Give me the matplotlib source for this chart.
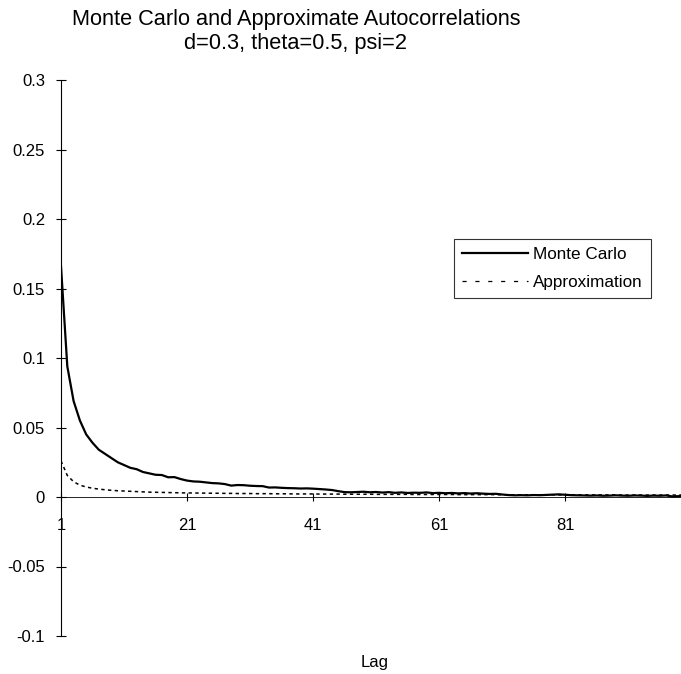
import numpy as np
import matplotlib
matplotlib.use("Agg")
import matplotlib.pyplot as plt
from matplotlib.lines import Line2D

plt.rcParams['font.family'] = ['Liberation Sans', 'DejaVu Sans']

# values
lags = np.arange(1, 101)
monte_carlo = [
    0.166, 0.094, 0.069, 0.055, 0.045, 0.039, 0.034, 0.031, 0.028, 0.025,
    0.023, 0.021, 0.020, 0.018, 0.017, 0.016, 0.0158, 0.0142, 0.0143, 0.0129,
    0.0118, 0.0112, 0.0110, 0.0105, 0.0100, 0.0098, 0.0093, 0.0082, 0.0086, 0.0085,
    0.0081, 0.0079, 0.0078, 0.0068, 0.0069, 0.0066, 0.0064, 0.0063, 0.0061, 0.0062,
    0.0060, 0.0057, 0.0054, 0.0050, 0.0042, 0.0035, 0.0034, 0.0036, 0.0038, 0.0034,
    0.0036, 0.0032, 0.0035, 0.0030, 0.0033, 0.0029, 0.0031, 0.0030, 0.0033, 0.0028,
    0.0030, 0.0027, 0.0029, 0.0026, 0.0028, 0.0025, 0.0027, 0.0024, 0.0022, 0.0023,
    0.0018, 0.0014, 0.0012, 0.0013, 0.0012, 0.0014, 0.0013, 0.0015, 0.0017, 0.0019,
    0.0016, 0.0013, 0.0012, 0.0011, 0.0010, 0.0011, 0.0009, 0.0010, 0.0012, 0.0010,
    0.0009, 0.0011, 0.0010, 0.0008, 0.0010, 0.0009, 0.0011, 0.0004, 0.0006, 0.0012,
]
approximation = [
    0.026, 0.0155, 0.0110, 0.0085, 0.0072, 0.0063, 0.0057, 0.0052, 0.0048, 0.0045,
    0.0043, 0.0041, 0.0039, 0.0037, 0.0035, 0.0034, 0.0033, 0.0032, 0.0031, 0.0030,
    0.0029, 0.0029, 0.0028, 0.0028, 0.0027, 0.0027, 0.0026, 0.0026, 0.0025, 0.0025,
    0.0025, 0.0024, 0.0024, 0.0024, 0.0023, 0.0023, 0.0023, 0.0022, 0.0022, 0.0022,
    0.0022, 0.0021, 0.0021, 0.0021, 0.0021, 0.0020, 0.0020, 0.0020, 0.0020, 0.0020,
    0.0019, 0.0019, 0.0019, 0.0019, 0.0019, 0.0019, 0.0018, 0.0018, 0.0018, 0.0018,
    0.0018, 0.0018, 0.0018, 0.0017, 0.0017, 0.0017, 0.0017, 0.0017, 0.0017, 0.0017,
    0.0016, 0.0016, 0.0016, 0.0016, 0.0016, 0.0016, 0.0016, 0.0016, 0.0016, 0.0015,
    0.0015, 0.0015, 0.0015, 0.0015, 0.0015, 0.0015, 0.0015, 0.0015, 0.0015, 0.0014,
    0.0014, 0.0014, 0.0014, 0.0014, 0.0014, 0.0014, 0.0014, 0.0014, 0.0014, 0.0014,
]
x_ticks = [1, 21, 41, 61, 81]
y_ticks = [-0.1, -0.05, 0, 0.05, 0.1, 0.15, 0.2, 0.25, 0.3]
y_labels = ['-0.1', '-0.05', '0', '0.05', '0.1', '0.15', '0.2', '0.25', '0.3']

W, H = 681, 674
fig = plt.figure(figsize=(W / 100, H / 100), dpi=100)
# plot area in pixels: left 61, lag 100 at 685, 0.3 at y=80, -0.1 at y=636
ax = fig.add_axes([61 / W, (H - 636) / H, 624 / W, 556 / H])

ax.plot(lags, monte_carlo, color='black', lw=1.6)
ax.plot(lags, approximation, color='black', lw=1.1, ls=(0, (2.2, 2.2)))

ax.set_xlim(1, 100)
ax.set_ylim(-0.1, 0.3)

for s in ['top', 'right']:
    ax.spines[s].set_visible(False)
ax.spines['bottom'].set_position(('data', 0))
ax.spines['bottom'].set_linewidth(0.6)
ax.spines['left'].set_linewidth(0.8)

ax.set_xticks(x_ticks)
ax.set_yticks(y_ticks)
ax.set_yticklabels(y_labels)
ax.tick_params(axis='y', direction='inout', length=7, width=0.8, pad=8, labelsize=12)
ax.tick_params(axis='x', direction='inout', length=6, width=0.8, pad=12, labelsize=12)

fig.text(375 / W, 1 - 662 / H, 'Lag', ha='center', va='center', fontsize=12)

fig.text(296 / W, 1 - 20 / H, 'Monte Carlo and Approximate Autocorrelations',
         ha='center', va='center', fontsize=15.7)
fig.text(296 / W, 1 - 44 / H, 'd=0.3, theta=0.5, psi=2',
         ha='center', va='center', fontsize=15.7)

# legend samples: the dashed one is drawn with wider gaps, as in the reference
handles = [
    Line2D([], [], color='black', lw=1.6),
    Line2D([], [], color='black', lw=0.9, ls=(0, (3.3, 7.0))),
]
leg = ax.legend(handles, ['Monte Carlo', 'Approximation'],
                loc='upper left', bbox_to_anchor=(454 / W, 1 - 239 / H),
                bbox_transform=fig.transFigure, fontsize=12.3, frameon=True,
                fancybox=False, handlelength=3.9, handletextpad=0.3,
                borderpad=0.45, labelspacing=0.8, borderaxespad=0)
leg.get_frame().set_edgecolor('black')
leg.get_frame().set_linewidth(0.8)

fig.savefig('out.png', dpi=100)
